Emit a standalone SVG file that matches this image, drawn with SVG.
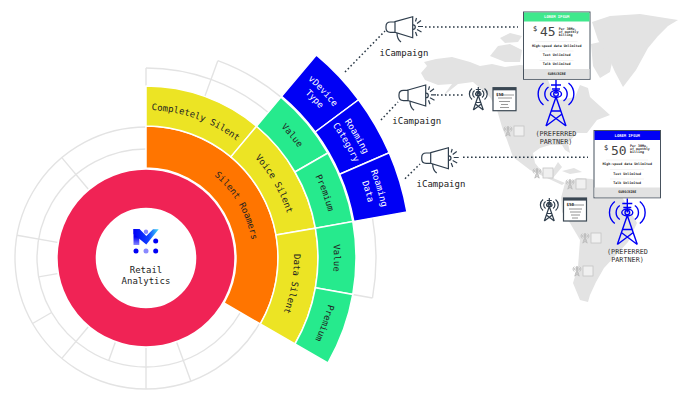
<svg xmlns="http://www.w3.org/2000/svg" width="690" height="400" viewBox="0 0 690 400">
<style>
text{font-family:"DejaVu Sans Mono","Liberation Mono",monospace;font-size:9px;fill:#222}
.w{fill:#fff}
.m{text-anchor:middle}
.sec{stroke:#fff;stroke-width:1.5}
.or{fill:#ff7500}.ye{fill:#ece424}.gr{fill:#26ea8d}.bl{fill:#0000f5}
.g{fill:none;stroke:#e3e3e3;stroke-width:1.4}
.land{fill:#e3e3e3}
.dot{fill:none;stroke:#2c3a47;stroke-width:1.5;stroke-dasharray:1.6 2.4}
.pref{font-size:6.8px;fill:#333;text-anchor:middle}
.cf{fill:#fff;stroke:#47525e;stroke-width:1}
.t{font-size:3.3px;font-weight:bold;text-anchor:middle;fill:#222}
.s{font-size:3.3px;font-weight:bold;fill:#222}
.hd{font-size:3.8px;font-weight:bold;fill:#fff;text-anchor:middle}
.dig{font-size:13px;fill:#444}
.dl{stroke:#e6e6e6;stroke-width:.5}
.mg{fill:none;stroke:#2f3e4d;stroke-width:1.2}
.fd{fill:#f0f0f0;stroke:#c4c4c4;stroke-width:.8}
</style>
<defs>
<linearGradient id="lg" x1="0" y1="0" x2="1" y2="0"><stop offset="0" stop-color="#0000f5"/><stop offset=".6" stop-color="#1040ff"/><stop offset="1" stop-color="#3fe0f5"/></linearGradient>
<linearGradient id="lb" x1="0" y1="0" x2="0" y2="1"><stop offset=".5" stop-color="#0000f5"/><stop offset="1" stop-color="#8a8aff"/></linearGradient>
<path id="a107" d="M77.22,176.04A107,107 0 0 1 214.78,176.04"/>
<path id="a148" d="M50.87,144.63A148,148 0 0 1 241.13,144.63"/>
<path id="a188" d="M25.15,113.99A188,188 0 0 1 266.85,113.99"/>
<path id="a241" d="M-8.91,73.39A241,241 0 0 1 300.91,73.39"/>
<path id="a229" d="M-1.2,82.59A229,229 0 0 1 293.2,82.59"/>
<g id="tower" fill="none">
<path d="M0,0V14M-5,5H5M-4,9H4"/>
<ellipse cx="0" cy="14" rx="5.5" ry="3.5"/>
<circle cx="0" cy="14" r="2.3"/>
<path d="M0,17L-10,46M0,17L10,46M-5,31H5M-6,34L10,46M6,34L-10,46"/>
<path d="M-7.5,7A8.5,8.5 0 0 0 -7.5,21M-12.5,3A14,14 0 0 0 -12.5,25M7.5,7A8.5,8.5 0 0 1 7.5,21M12.5,3A14,14 0 0 1 12.5,25"/>
</g>
<g id="mega" class="mg">
<path d="M395,22H390.5Q386,22 386,26.5V28Q386,32.3 390.5,32.3H395"/>
<path d="M395,21.7L412.7,16.7V37.7L395,32.3Z"/>
<path d="M397,33Q397,39 401,42"/>
<path d="M413,24.8a2.3,2.3 0 0 1 0,4.6"/>
<path d="M415.5,21.5L416.5,18M417,23.5L421,20.5M418,26.5H423M417,29.5L421.5,32M415.5,32L417,36"/>
</g>
<g id="fade">
<use href="#tower" transform="scale(.22)" stroke="#bdbdbd" stroke-width="4.5"/>
<rect class="fd" x="6" y="0" width="10" height="10"/>
</g>
</defs>
<rect width="690" height="400" fill="#fff"/>

<g id="map" class="land">
<path d="M421,73L427,66L424,62L436,59L452,57L470,62L480,66L492,64L505,67L520,65L530,66L540,72L548,80L552,90L560,100L575,97L580,85L588,88L590,97L600,106L610,115L597,120L587,133L577,133L568,143L570,153L565,150L562,145L550,145L540,148L533,153L535,163L543,173L553,170L558,162L562,167L553,178L565,183L562,185L547,178L530,170L513,157L507,140L502,127L497,110L490,97L473,82L458,84L443,96L452,84L438,85L425,80Z"/>
<path d="M490,56L498,46L510,44L522,50L520,62L505,62Z"/>
<path d="M500,38L510,33L522,36L518,42L505,43Z"/>
<path d="M591,44L600,42L613,58L610,72L600,78L593,66Z"/>
<path d="M592,22L610,16L640,14L678,20L668,26L658,36L648,48L636,70L623,87L615,72L608,56L598,40Z"/>
<path d="M562,171L574,168L582,172L570,174Z"/>
<path d="M565,183L578,178L592,179L608,187L622,197L637,223L628,242L616,255L604,268L596,282L590,295L588,302L580,300L573,283L578,267L580,240L570,223L562,212L561,198Z"/>
</g>

<g id="fade-markers">
<use href="#fade" x="508" y="126"/>
<use href="#fade" x="537" y="168"/>
<use href="#fade" x="570" y="179"/>
<use href="#fade" x="585" y="233"/>
<use href="#fade" x="577" y="266"/>
</g>

<g id="grid">
<path class="g" d="M259.45,323.5A131,131 0 1 1 146,127"/>
<path class="g" d="M240.4,312.5A109,109 0 1 1 146,149"/>
<path class="g" d="M146,68A190,190 0 0 1 268.13,112.45"/>
<path class="g" d="M217.82,60.66A210,210 0 0 1 280.99,97.14"/>
<path class="g" d="M372.5,218.07A230,230 0 0 1 372.5,297.93"/>
<line class="g" x1="146" x2="146" y1="86" y2="68"/>
<line class="g" x1="146" x2="146" y1="86" y2="48" transform="rotate(20 146 258)"/>
<line class="g" x1="146" x2="146" y1="48" y2="28" transform="rotate(100 146 258)"/>
<line class="g" x1="146" x2="146" y1="168" y2="127" transform="rotate(320 146 258)"/>
<line class="g" x1="146" x2="146" y1="168" y2="127" transform="rotate(280 146 258)"/>
<line class="g" x1="146" x2="146" y1="168" y2="149" transform="rotate(260 146 258)"/>
<line class="g" x1="146" x2="146" y1="149" y2="127" transform="rotate(240 146 258)"/>
<line class="g" x1="146" x2="146" y1="168" y2="127" transform="rotate(220 146 258)"/>
<line class="g" x1="146" x2="146" y1="168" y2="149" transform="rotate(200 146 258)"/>
<line class="g" x1="146" x2="146" y1="168" y2="127" transform="rotate(180 146 258)"/>
<line class="g" x1="146" x2="146" y1="168" y2="127" transform="rotate(160 146 258)"/>
</g>

<g id="connectors">
<path class="dot" d="M345,72L385,31"/>
<path class="dot" d="M425,27H518"/>
<path class="dot" d="M381,120L398,102"/>
<path class="dot" d="M437,95H464"/>
<path class="dot" d="M405,178.7L420,164"/>
<path class="dot" d="M463,157.3H588"/>
</g>

<g id="node-silent-roamers">
<path class="sec or" d="M146,168V126A132,132 0 0 1 260.3,324L223.94,303A90,90 0 0 0 146,168Z"/>
<text transform="rotate(60 146 258)"><textPath href="#a107" startOffset="50%" class="m">Silent Roamers</textPath></text>
</g>
<g id="node-completely-silent">
<path class="sec ye" d="M146,126V86A172,172 0 0 1 256.56,126.25L230.85,156.89A132,132 0 0 0 146,126Z"/>
<text transform="rotate(20 146 258)"><textPath href="#a148" startOffset="50%" class="m">Completely Silent</textPath></text>
</g>
<g id="node-voice-silent">
<path class="sec ye" d="M230.85,156.89L256.56,126.25A172,172 0 0 1 315.39,228.14L276,235.08A132,132 0 0 0 230.85,156.89Z"/>
<text transform="rotate(60 146 258)"><textPath href="#a148" startOffset="50%" class="m">Voice Silent</textPath></text>
</g>
<g id="node-data-silent">
<path class="sec ye" d="M276,235.08L315.39,228.14A172,172 0 0 1 294.95,344L260.3,324A132,132 0 0 0 276,235.08Z"/>
<text transform="rotate(100 146 258)"><textPath href="#a148" startOffset="50%" class="m">Data Silent</textPath></text>
</g>
<g id="node-value-1">
<path class="sec gr" d="M256.56,126.25L280.99,97.14A210,210 0 0 1 327.87,153L294.95,172A172,172 0 0 0 256.56,126.25Z"/>
<text transform="rotate(50 146 258)"><textPath href="#a188" startOffset="50%" class="m">Value</textPath></text>
</g>
<g id="node-premium-1">
<path class="sec gr" d="M294.95,172L327.87,153A210,210 0 0 1 352.81,221.53L315.39,228.14A172,172 0 0 0 294.95,172Z"/>
<text transform="rotate(70 146 258)"><textPath href="#a188" startOffset="50%" class="m">Premium</textPath></text>
</g>
<g id="node-value-2">
<path class="sec gr" d="M315.39,228.14L352.81,221.53A210,210 0 0 1 352.81,294.47L315.39,287.86A172,172 0 0 0 315.39,228.14Z"/>
<text transform="rotate(90 146 258)"><textPath href="#a188" startOffset="50%" class="m">Value</textPath></text>
</g>
<g id="node-premium-2">
<path class="sec gr" d="M315.39,287.86L352.81,294.47A210,210 0 0 1 327.87,363L294.95,344A172,172 0 0 0 315.39,287.86Z"/>
<text transform="rotate(110 146 258)"><textPath href="#a188" startOffset="50%" class="m">Premium</textPath></text>
</g>
<g id="node-device-type">
<path class="sec bl" d="M281.63,96.37L316.34,55.01A265,265 0 0 1 358.56,99.74L315.24,131.99A211,211 0 0 0 281.63,96.37Z"/>
<text class="w" transform="rotate(46.67 146 258)"><textPath href="#a241" startOffset="50%" class="m w">vDevice</textPath></text>
<text class="w" transform="rotate(46.67 146 258)"><textPath href="#a229" startOffset="50%" class="m w">Type</textPath></text>
</g>
<g id="node-roaming-category">
<path class="sec bl" d="M315.24,131.99L358.56,99.74A265,265 0 0 1 389.22,152.77L339.66,174.21A211,211 0 0 0 315.24,131.99Z"/>
<text class="w" transform="rotate(60 146 258)"><textPath href="#a241" startOffset="50%" class="m w">Roaming</textPath></text>
<text class="w" transform="rotate(60 146 258)"><textPath href="#a229" startOffset="50%" class="m w">Category</textPath></text>
</g>
<g id="node-roaming-data">
<path class="sec bl" d="M339.66,174.21L389.22,152.77A265,265 0 0 1 406.97,211.98L353.79,221.37A211,211 0 0 0 339.66,174.21Z"/>
<text class="w" transform="rotate(73.33 146 258)"><textPath href="#a241" startOffset="50%" class="m w">Roaming</textPath></text>
<text class="w" transform="rotate(73.33 146 258)"><textPath href="#a229" startOffset="50%" class="m w">Data</textPath></text>
</g>

<g id="node-retail-analytics">
<circle cx="146" cy="258" r="69.3" fill="none" stroke="#f02355" stroke-width="38"/>
<path d="M133.5,229H139.3V245H133.5Z" fill="url(#lb)"/>
<path d="M133.5,229H139.5L146.3,236L153,229.3H158.7L146.3,244.5L133.5,234Z" fill="url(#lg)"/>
<circle cx="146" cy="231.7" r="2.2" fill="#8a8aff"/>
<circle cx="155.7" cy="241" r="2.5" fill="#0000f5"/>
<circle cx="136" cy="251" r="2.5" fill="#0000f5"/>
<circle cx="146" cy="251" r="2.5" fill="#8a8aff"/>
<circle cx="155.7" cy="251" r="2.5" fill="#0000f5"/>
<text class="m" x="146" y="272.7">Retail</text>
<text class="m" x="146" y="284">Analytics</text>
</g>

<g id="node-campaign-1">
<use href="#mega"/>
<text class="m" x="404" y="56">iCampaign</text>
</g>
<g id="node-campaign-2">
<use href="#mega" x="13" y="68.3"/>
<text class="m" x="416.7" y="124">iCampaign</text>
</g>
<g id="node-campaign-3">
<use href="#mega" x="35.7" y="131"/>
<text class="m" x="441" y="187">iCampaign</text>
</g>

<g id="node-offer-small-1">
<use href="#tower" transform="translate(478.3,87) scale(.5)" stroke="#2f3e4d" stroke-width="2.4"/>
<rect x="493" y="87.7" width="23" height="23" fill="#fff" stroke="#3a4753" stroke-width="1.2"/>
<rect x="493" y="87.7" width="23" height="2.6" fill="#3a4753"/>
<text x="496" y="95.5" style="font-size:4.2px;font-weight:bold">$50</text>
<path d="M500,95H514M498,98H512M499,101.5H510M501,104.5H508M500,107.5H509" stroke="#555" stroke-width=".6" fill="none"/>
</g>
<g id="node-offer-small-2">
<use href="#tower" transform="translate(549.3,198) scale(.5)" stroke="#2f3e4d" stroke-width="2.4"/>
<rect x="563.5" y="198" width="23" height="23" fill="#fff" stroke="#3a4753" stroke-width="1.2"/>
<rect x="563.5" y="198" width="23" height="2.6" fill="#3a4753"/>
<text x="566.5" y="206" style="font-size:4.2px;font-weight:bold">$50</text>
<path d="M570,205H584M569,209H582M570,212H581M571,215H580M572,218H578" stroke="#777" stroke-width=".8" fill="none"/>
</g>

<g id="node-partner-1">
<use href="#tower" transform="translate(556,80)" stroke="#0000f5" stroke-width="1.4"/>
<text class="pref" x="556" y="136">(PREFERRED</text>
<text class="pref" x="556" y="144">PARTNER)</text>
</g>
<g id="node-partner-2">
<use href="#tower" transform="translate(627.3,198.5)" stroke="#0000f5" stroke-width="1.4"/>
<text class="pref" x="627.5" y="254">(PREFERRED</text>
<text class="pref" x="627.5" y="262">PARTNER)</text>
</g>

<g id="node-card-45" transform="translate(523.5,12)">
<rect class="cf" width="66.5" height="67.3"/>
<rect x=".5" y=".5" width="65.5" height="9" fill="#3fe88c"/>
<rect x=".5" y="57" width="65.5" height="9.8" fill="#e2e2e2"/>
<text class="hd" x="33.2" y="6.2">LOREM IPSUM</text>
<text x="9.5" y="19" style="font-size:7px">$</text>
<text class="dig" x="16.5" y="24">45</text>
<text class="s" x="35.2" y="17.5">Per 30Mo,</text>
<text class="s" x="35.2" y="20.5">of monthly</text>
<text class="s" x="35.2" y="23.5">billing</text>
<path class="dl" d="M12,29.5H54M16,39H50M16,48.5H50"/>
<text class="t" x="33.2" y="34.5">High-speed data Unlimited</text>
<text class="t" x="33.2" y="44">Text Unlimited</text>
<text class="t" x="33.2" y="53">Talk Unlimited</text>
<text class="t" x="33.2" y="62.7">SUBSCRIBE</text>
</g>
<g id="node-card-50" transform="translate(594,130.5)">
<rect class="cf" width="66.5" height="67.3"/>
<rect x=".5" y=".5" width="65.5" height="9" fill="#0000f5"/>
<rect x=".5" y="57" width="65.5" height="9.8" fill="#e2e2e2"/>
<text class="hd" x="33.2" y="6.2">LOREM IPSUM</text>
<text x="10" y="19" style="font-size:7px">$</text>
<text class="dig" x="17" y="24">50</text>
<text class="s" x="36" y="16.5">Per 30Mo,</text>
<text class="s" x="36" y="19.5">of monthly</text>
<text class="s" x="36" y="22.5">billing</text>
<path class="dl" d="M12,29.5H54M16,39H50M16,48.5H50"/>
<text class="t" x="33.2" y="34.5">High-speed data Unlimited</text>
<text class="t" x="33.2" y="44">Text Unlimited</text>
<text class="t" x="33.2" y="53">Talk Unlimited</text>
<text class="t" x="33.2" y="62.7">SUBSCRIBE</text>
</g>
</svg>
